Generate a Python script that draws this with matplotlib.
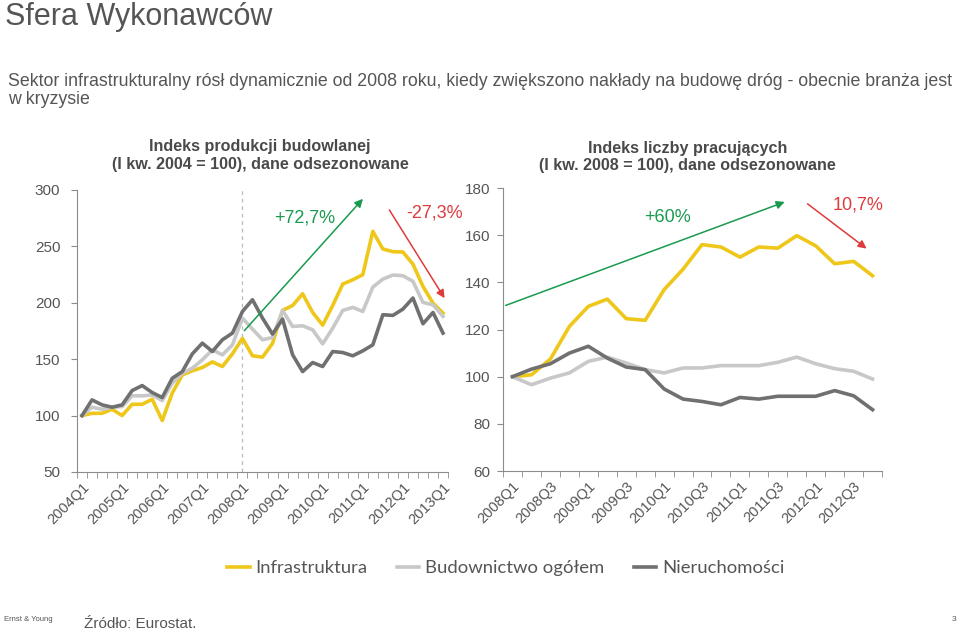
import matplotlib
matplotlib.use("Agg")
import matplotlib.pyplot as plt

plt.rcParams['font.family'] = ['Liberation Sans', 'DejaVu Sans']

# --- dane: indeks produkcji budowlanej (I kw. 2004 = 100), 2004Q1..2013Q1
prod_quarters = [f"{y}Q{q}" for y in range(2004, 2014) for q in range(1, 5)][:37]
prod_infra = [100, 102, 102, 105.6, 100, 110, 110, 114.5, 95.6, 120, 136, 139.7, 142.6,
              147.6, 143.5, 154.7, 168.4, 153, 151.8, 164, 193.2, 197.6, 208, 191.4,
              180.2, 197.6, 216.6, 220.4, 224.9, 263.3, 247.7, 245.3, 245, 234.3,
              214.5, 199.7, 190.8]
prod_total = [100, 107.4, 105.6, 107.4, 108, 117.5, 117.5, 118.3, 113.3, 128.7, 137.6,
              142, 149.4, 158.3, 153.8, 162.7, 186.4, 176.6, 167.2, 169.2, 193.2, 179,
              179.6, 176, 163.6, 177.5, 193.2, 195.9, 192.3, 213.9, 221, 224.6, 224,
              219, 200.3, 198.2, 187.9]
prod_realestate = [100, 113.9, 109.5, 107.4, 109.5, 122.2, 126.6, 120.4, 116, 133.1, 139,
                   154.7, 164.2, 156.8, 167.2, 173.1, 192.3, 202.7, 186.4, 172.2, 185.5,
                   153.9, 139, 147, 143.5, 156.8, 155.9, 153, 157.4, 162.7, 189.4, 188.8,
                   194.4, 204.2, 181.4, 191.4, 173.1]

# --- dane: indeks liczby pracujących (I kw. 2008 = 100), 2008Q1..2012Q4
emp_quarters = [f"{y}Q{q}" for y in range(2008, 2013) for q in range(1, 5)]
emp_infra = [100, 100.8, 107.5, 121.3, 129.8, 132.9, 124.6, 123.9, 136.9, 145.6, 156,
             155, 150.7, 155, 154.5, 159.8, 155.5, 147.9, 148.9, 142.8]
emp_total = [100, 96.6, 99.4, 101.6, 106.5, 108.3, 105.8, 103, 101.6, 103.7, 103.7,
             104.7, 104.7, 104.7, 106.1, 108.3, 105.5, 103.4, 102.3, 99]
emp_realestate = [100, 103.2, 105.5, 110, 112.9, 107.9, 104.1, 103, 94.8, 90.5, 89.5,
                  88.1, 91.2, 90.5, 91.7, 91.7, 91.7, 94.1, 91.9, 86]

series_names = ["Infrastruktura", "Budownictwo ogółem", "Nieruchomości"]
colors = ["#EEC71A", "#C8C8C8", "#707070"]
green = "#199A4F"
red = "#DF3A3C"
txt_gray = "#555555"

fig = plt.figure(figsize=(9.6, 6.32), dpi=100)


def style_axis(ax, labels, step, ylim, yticks, ypad):
    n = len(labels)
    ax.set_xlim(-0.5, n - 0.5)
    ax.set_ylim(*ylim)
    ax.set_yticks(yticks)
    for s in ["top", "right"]:
        ax.spines[s].set_visible(False)
    for s in ["left", "bottom"]:
        ax.spines[s].set_color("#8C8C8C")
        ax.spines[s].set_linewidth(0.8)
    ax.set_xticks(range(0, n, step))
    ax.set_xticklabels(labels[::step], rotation=45, ha="right",
                       rotation_mode="anchor", fontsize=10.5, color=txt_gray)
    ax.set_xticks([i - 0.5 for i in range(n + 1)], minor=True)
    ax.tick_params(axis="x", which="major", length=0, pad=6)
    ax.tick_params(axis="x", which="minor", length=4, color="#8C8C8C", direction="out")
    ax.tick_params(axis="y", length=4, color="#8C8C8C", labelsize=11,
                   labelcolor=txt_gray, pad=ypad)


# lewy wykres
ax1 = fig.add_axes([0.0802, 0.2532, 0.3865, 0.4462])
x1 = range(len(prod_quarters))
ax1.axvline(16, color="#BBBBBB", lw=0.9, ls=(0, (3, 3)), zorder=1)
for vals, c, name in zip([prod_infra, prod_total, prod_realestate], colors, series_names):
    ax1.plot(x1, vals, color=c, lw=2.6, label=name, zorder=3)
style_axis(ax1, prod_quarters, 4, (50, 300), range(50, 301, 50), 8)
ax1.annotate("", xy=(28.2, 294), xytext=(16, 173.4),
             arrowprops=dict(arrowstyle="-|>", color=green, lw=1.1, mutation_scale=12),
             annotation_clip=False, zorder=4)
ax1.annotate("", xy=(36.3, 202), xytext=(30.5, 284.4),
             arrowprops=dict(arrowstyle="-|>", color=red, lw=1.1, mutation_scale=12),
             annotation_clip=False, zorder=4)
ax1.text(22.2, 275.4, "+72,7%", color=green, fontsize=13, ha="center", va="center")
ax1.text(35.2, 280, "-27,3%", color=red, fontsize=13, ha="center", va="center")

# prawy wykres
ax2 = fig.add_axes([0.524, 0.2547, 0.3948, 0.4478])
x2 = range(len(emp_quarters))
for vals, c, name in zip([emp_infra, emp_total, emp_realestate], colors, series_names):
    ax2.plot(x2, vals, color=c, lw=2.6, label=name, zorder=3)
style_axis(ax2, emp_quarters, 2, (60, 180), range(60, 181, 20), 5)
ax2.annotate("", xy=(14.5, 174.5), xytext=(-0.5, 129.8),
             arrowprops=dict(arrowstyle="-|>", color=green, lw=1.1, mutation_scale=12),
             annotation_clip=False, zorder=4)
ax2.annotate("", xy=(18.8, 153.6), xytext=(15.45, 174),
             arrowprops=dict(arrowstyle="-|>", color=red, lw=1.1, mutation_scale=12),
             annotation_clip=False, zorder=4)
ax2.text(8.16, 167.7, "+60%", color=green, fontsize=13, ha="center", va="center")
ax2.text(18.25, 172.8, "10,7%", color=red, fontsize=13, ha="center", va="center")

# teksty
fig.text(0.005, 0.961, "Sfera Wykonawców", fontsize=22, color=txt_gray, va="baseline")
fig.text(0.008, 0.857, "Sektor infrastrukturalny rósł dynamicznie od 2008 roku, kiedy zwiększono "
         "nakłady na budowę dróg - obecnie branża jest\nw kryzysie",
         fontsize=12.8, color=txt_gray, va="center", linespacing=1.12)
fig.text(0.271, 0.754, "Indeks produkcji budowlanej\n(I kw. 2004 = 100), dane odsezonowane",
         fontsize=11.6, fontweight="bold", color="#4A4A4A", ha="center", va="center",
         linespacing=1.2)
fig.text(0.716, 0.752, "Indeks liczby pracujących\n(I kw. 2008 = 100), dane odsezonowane",
         fontsize=11.6, fontweight="bold", color="#4A4A4A", ha="center", va="center",
         linespacing=1.2)

leg = fig.legend(*ax1.get_legend_handles_labels(), loc="center", ncol=3,
                 bbox_to_anchor=(0.527, 0.101), frameon=False, handlelength=1.2,
                 handletextpad=0.32, columnspacing=1.6,
                 prop={"family": "Lato", "size": 13.3})
for t in leg.get_texts():
    t.set_color(txt_gray)

fig.text(0.004, 0.019, "Ernst & Young", fontsize=5.5, color=txt_gray, va="center")
fig.text(0.088, 0.012, "Źródło: Eurostat.", fontsize=11, color=txt_gray, va="center")
fig.text(0.996, 0.019, "3", fontsize=6, color=txt_gray, va="center", ha="right")

fig.savefig("out.png", dpi=100)
